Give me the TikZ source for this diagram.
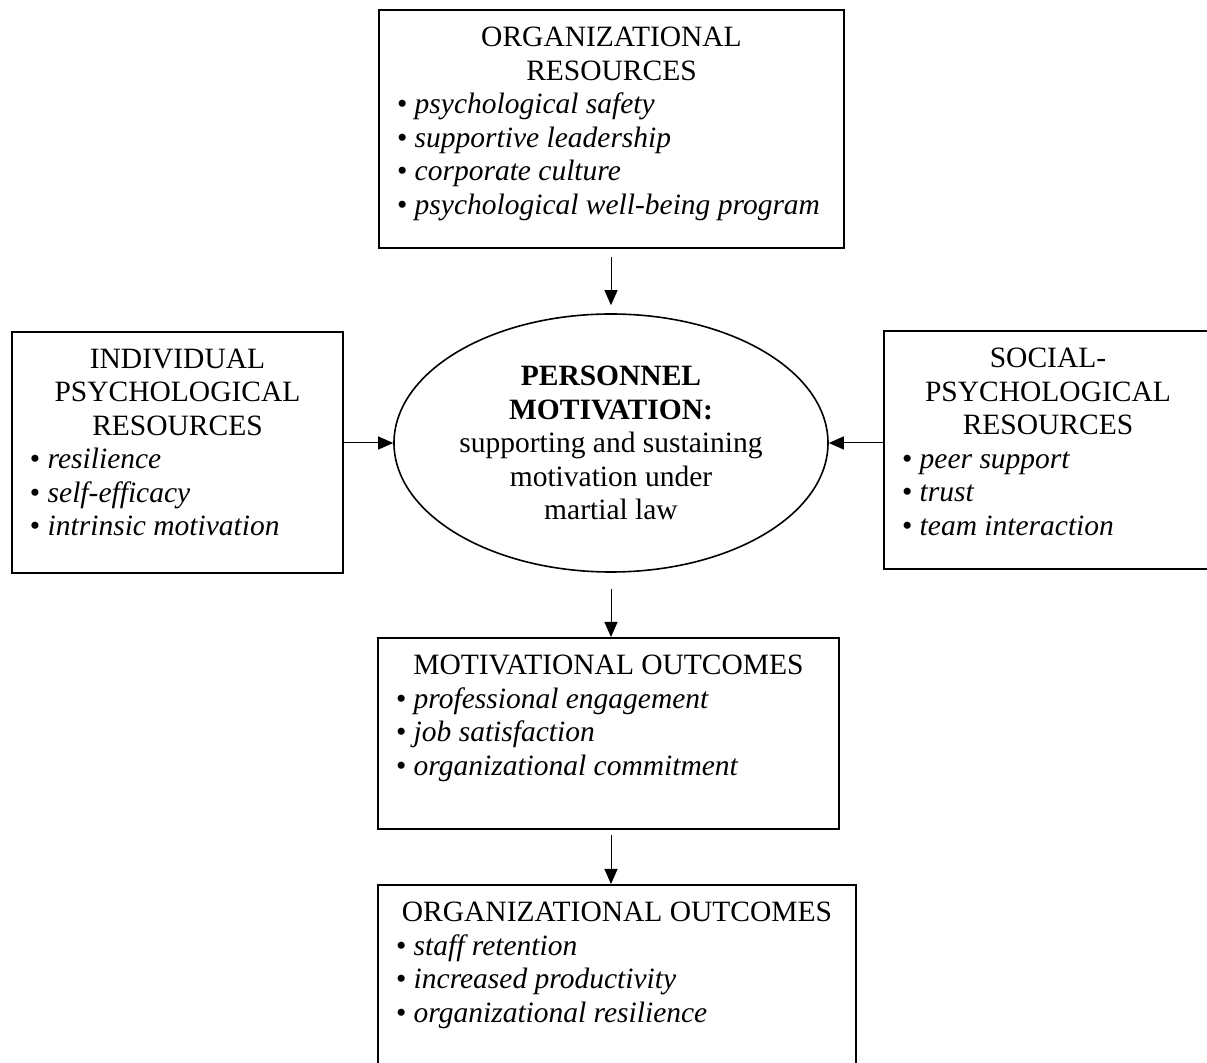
\documentclass[tikz,border=0pt]{standalone}
\usepackage{fontspec}
\setmainfont{Liberation Serif}
\usetikzlibrary{shapes.geometric,arrows.meta}

\newcommand{\boxbody}[3]{\parbox[c][#1][t]{#2}{#3}}

\begin{document}
\begin{tikzpicture}[x=0.5pt,y=-0.5pt,
    font=\fontsize{14.75}{16.75}\selectfont,
    box/.style={draw, line width=1pt, rectangle, anchor=north west,
      inner xsep=9pt, inner ysep=8.5pt},
    arr/.style={line width=0.5pt, -{Triangle[length=7.5pt,width=6.5pt]}}]

  \path[use as bounding box, clip] (0,0) rectangle (1207,1063);

  \node[box] (orgres) at (378,9) {\boxbody{102pt}{214.5pt}{%
      \centering ORGANIZATIONAL\\ RESOURCES\par\raggedright
      \textbullet\ \textit{psychological safety}\\
      \textbullet\ \textit{supportive leadership}\\
      \textbullet\ \textit{corporate culture}\\
      \textbullet\ \textit{psychological well-being program}}};

  \node[box] (indiv) at (11,331) {\boxbody{103.5pt}{147.5pt}{%
      \centering INDIVIDUAL\\ PSYCHOLOGICAL\\ RESOURCES\par\raggedright
      \textbullet\ \textit{resilience}\\
      \textbullet\ \textit{self-efficacy}\\
      \textbullet\ \textit{intrinsic motivation}}};

  \node[box] (social) at (883,330) {\boxbody{102pt}{146pt}{%
      \centering SOCIAL-\\ PSYCHOLOGICAL\\ RESOURCES\par\raggedright
      \textbullet\ \textit{peer support}\\
      \textbullet\ \textit{trust}\\
      \textbullet\ \textit{team interaction}}};

  \node[draw, ellipse, line width=0.8pt, minimum width=217pt, minimum height=129pt,
    inner sep=0pt, align=center] (pm) at (611,443)
    {\textbf{PERSONNEL}\\ \textbf{MOTIVATION:}\\ supporting and sustaining\\
     motivation under\\ martial law};

  \node[box] (motiv) at (377,637) {\boxbody{78.5pt}{212.5pt}{%
      \centering MOTIVATIONAL OUTCOMES\par\raggedright
      \textbullet\ \textit{professional engagement}\\
      \textbullet\ \textit{job satisfaction}\\
      \textbullet\ \textit{organizational commitment}}};

  \node[box] (orgout) at (377,884) {\boxbody{83pt}{221pt}{%
      \centering ORGANIZATIONAL OUTCOMES\par\raggedright
      \textbullet\ \textit{staff retention}\\
      \textbullet\ \textit{increased productivity}\\
      \textbullet\ \textit{organizational resilience}}};

  \begin{scope}[every edge/.style={draw, arr}]
    \path (orgres.south -| pm.north) edge[shorten <=4pt, shorten >=4pt] (pm.north);
    \path (indiv.east |- pm.west) edge (pm.west);
    \path (social.west |- pm.east) edge (pm.east);
    \path (pm.south) edge[shorten <=8pt] (pm.south |- motiv.north);
    \path (motiv.south -| pm.south) edge[shorten <=2.5pt] (pm.south |- orgout.north);
  \end{scope}

\end{tikzpicture}
\end{document}
